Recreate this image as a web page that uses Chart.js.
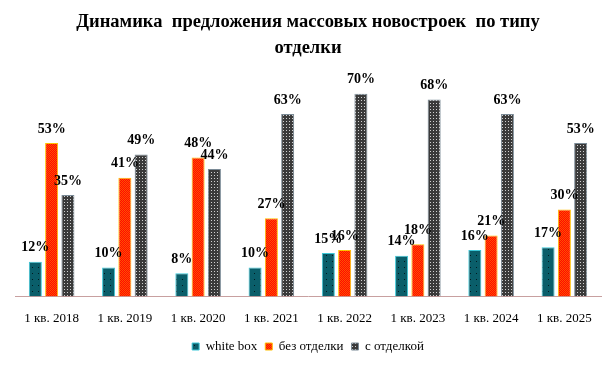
<!DOCTYPE html>
<html>
<head>
<meta charset="utf-8">
<script src="https://cdn.jsdelivr.net/npm/chart.js@4"></script>
<style>
  html, body { margin: 0; padding: 0; background: #fff; }
  #wrap { width: 615px; height: 366px; }
</style>
</head>
<body>
<div id="wrap"><canvas id="offerChart" width="615" height="366"></canvas></div>
<script>
// Данные (доля, %)
const kvartaly = ['1 кв. 2018', '1 кв. 2019', '1 кв. 2020', '1 кв. 2021', '1 кв. 2022', '1 кв. 2023', '1 кв. 2024', '1 кв. 2025'];
const whiteBox = [12, 10, 8, 10, 15, 14, 16, 17];
const bezOtdelki = [53, 41, 48, 27, 16, 18, 21, 30];
const sOtdelkoy = [35, 49, 44, 63, 70, 68, 63, 53];

const serif = "'Times New Roman', 'Liberation Serif', serif";

// простые узоры для столбиков
function makePattern(size, bg, dots) {
    const c = document.createElement('canvas');
    c.width = size; c.height = size;
    const g = c.getContext('2d');
    g.fillStyle = bg;
    g.fillRect(0, 0, size, size);
    dots.forEach(d => {
        g.fillStyle = d[2];
        g.fillRect(d[0], d[1], 1, 1);
    });
    return g.createPattern(c, 'repeat');
}
const tealFill = makePattern(6, '#0a5e6a', [[2, 3, '#001a1f']]);
const redFill = makePattern(2, '#ff0a00', [[0, 0, '#ff5000'], [1, 1, '#ff5000']]);
const greyFill = makePattern(3, '#3a3a3a', [[1, 1, '#d0d0d0']]);

// подписи значений над столбиками
const valueLabels = {
    id: 'valueLabels',
    afterDatasetsDraw(chart) {
        const ctx = chart.ctx;
        ctx.save();
        ctx.font = 'bold 14px ' + serif;
        ctx.fillStyle = '#000';
        ctx.textAlign = 'center';
        ctx.textBaseline = 'middle';
        chart.data.datasets.forEach((ds, i) => {
            chart.getDatasetMeta(i).data.forEach((bar, j) => {
                ctx.fillText(ds.data[j] + '%', bar.x, bar.y - 14);
            });
        });
        ctx.restore();
    }
};

const config = {
    type: 'bar',
    data: {
        labels: kvartaly,
        datasets: [{
            label: 'white box',
            data: whiteBox,
            backgroundColor: tealFill,
            borderColor: '#3cc8d8',
            borderWidth: 1
        }, {
            label: 'без отделки',
            data: bezOtdelki,
            backgroundColor: redFill,
            borderColor: '#ffc000',
            borderWidth: 1
        }, {
            label: 'с отделкой',
            data: sOtdelkoy,
            backgroundColor: greyFill,
            borderColor: '#7a8a96',
            borderWidth: 1
        }]
    },
    options: {
        responsive: false,
        animation: false,
        categoryPercentage: 0.667,
        barPercentage: 0.8,
        layout: { padding: { left: 15, right: 14, top: 4, bottom: 3 } },
        plugins: {
            title: {
                display: true,
                text: ['Динамика  предложения массовых новостроек  по типу', 'отделки'],
                color: '#000',
                font: { family: serif, size: 18.5, weight: 'bold', lineHeight: 1.4 },
                padding: { top: 5, bottom: 30 }
            },
            legend: {
                position: 'bottom',
                labels: {
                    color: '#000',
                    font: { family: serif, size: 13 },
                    boxWidth: 7,
                    boxHeight: 7,
                    padding: 8
                }
            },
            tooltip: { enabled: false }
        },
        scales: {
            x: {
                grid: { display: false },
                border: { display: true, color: '#c8a0a0', dash: [1, 2] },
                ticks: { color: '#000', font: { family: serif, size: 13 }, padding: 6, maxRotation: 0 }
            },
            y: {
                display: false,
                min: 0,
                max: 71
            }
        }
    },
    plugins: [valueLabels]
};

new Chart(document.getElementById('offerChart'), config);
</script>
</body>
</html>
